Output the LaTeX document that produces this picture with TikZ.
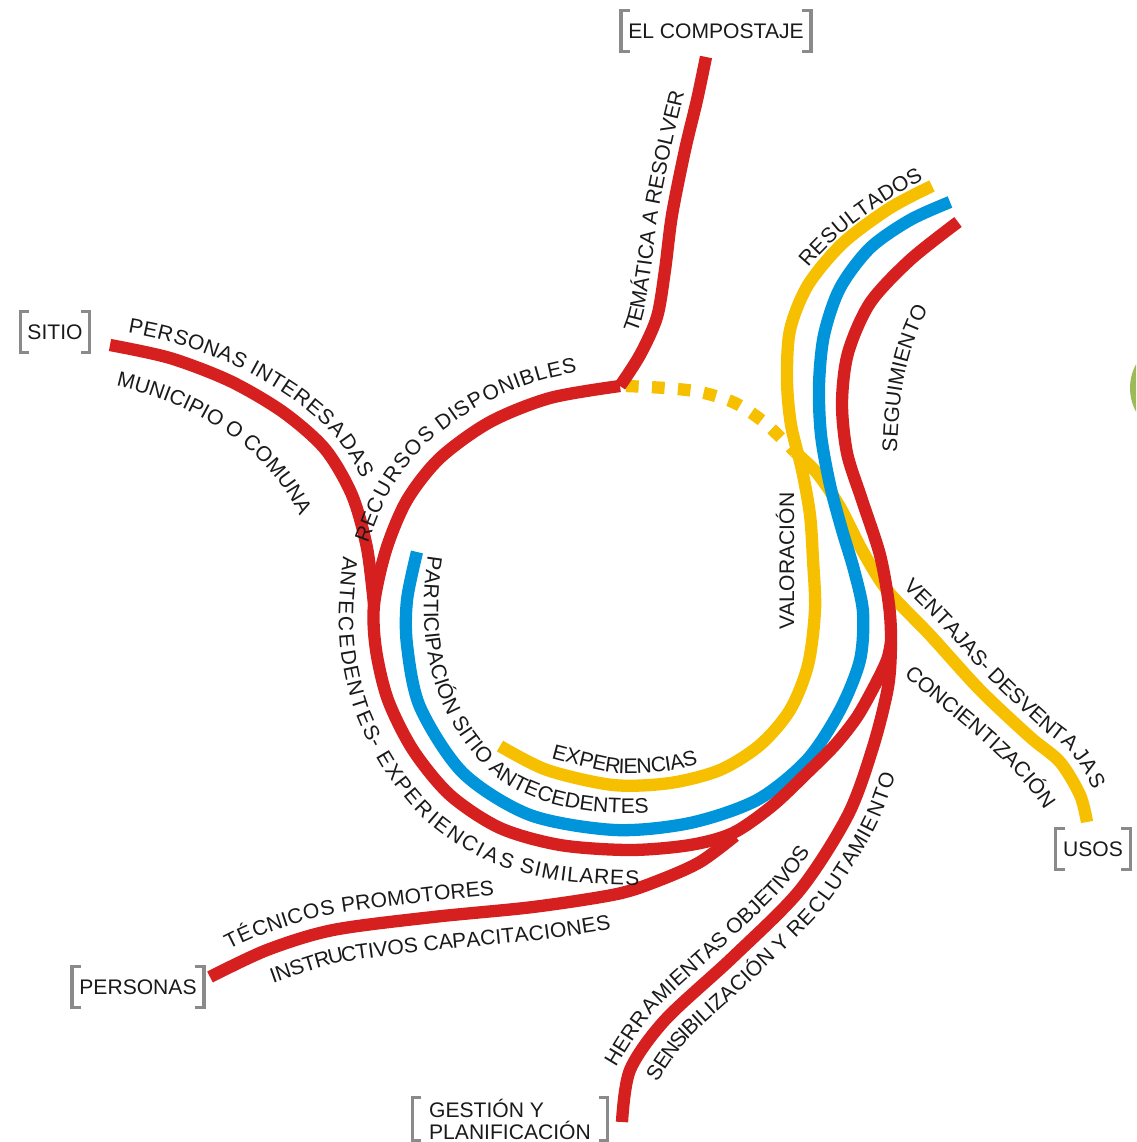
\documentclass[tikz,border=0pt]{standalone}
\usepackage{fontspec}
\setmainfont{Liberation Sans}
\usetikzlibrary{decorations.text}

\definecolor{rojo}{HTML}{D6201F}
\definecolor{azul}{HTML}{0095DA}
\definecolor{amarillo}{HTML}{F6BF00}
\definecolor{gris}{HTML}{8A8A8A}
\definecolor{tinta}{HTML}{1A1A1A}
\definecolor{verde}{HTML}{9BBB59}

\newcommand{\rotfont}{\fontsize{12}{14}\selectfont\color{tinta}}
% grey brackets round a label node
\newcommand{\corchetes}[1]{%
  \draw[corchete] ([xshift=5pt]#1.north west) -- (#1.north west) -- (#1.south west) -- ([xshift=5pt]#1.south west);
  \draw[corchete] ([xshift=-5pt]#1.north east) -- (#1.north east) -- (#1.south east) -- ([xshift=-5pt]#1.south east);}

\begin{document}
\begin{tikzpicture}[x=0.02cm, y=-0.02cm,
    linea/.style={line width=7pt},
    etiqueta/.style={font=\fontsize{12}{12.5}\selectfont, text=tinta, inner xsep=4pt, minimum height=23pt},
    corchete/.style={gris, line width=1.8pt},
    rotulo/.style 2 args={decorate, decoration={text along path, raise=#1, text={|\rotfont|#2}}}]
    \useasboundingbox (0,0) rectangle (1136,1142);

    \coordinate (arriba) at (620,386);
    \coordinate (union) at (891,642);

    % green disc cut by the right edge
    \begin{scope}
        \clip (0,0) rectangle (1136,1142);
        \fill[verde] (1180,388) circle (1cm);
    \end{scope}

    % yellow lines
    \draw[linea, amarillo, dash pattern=on 7.2pt off 7.6pt] plot[smooth] coordinates {(626,386) (665,388) (700,392) (735,403) (765,423) (795,452)};
    \draw[linea, amarillo] plot[smooth] coordinates {(795,452) (817,473) (840,507) (862,550) (887,590) (930,635) (980,690) (1030,737) (1060,762) (1080,795) (1087,822)};
    \draw[linea, amarillo] plot[smooth] coordinates {(500,746) (547,770) (613,785) (670,783) (720,770) (760,745) (790,710) (808,665) (815,610) (813,560) (810,515) (802,470) (791,425) (787,380) (790,330) (808,285) (843,243) (890,208) (932,186)};

    % blue line
    \draw[linea, azul] plot[smooth] coordinates {(417,552) (407,600) (407,645) (420,707) (463,773) (530,815) (615,830) (690,823) (757,800) (807,760) (840,710) (860,660) (863,612) (854,570) (842,530) (830,485) (821,435) (819,385) (824,335) (840,288) (870,248) (910,220) (950,202)};

    % red lines
    \draw[linea, rojo] plot[smooth] coordinates {(arriba) (550,398) (490,422) (440,458) (407,500) (386,550) (374,605) (376,650) (388,700) (413,750) (450,795) (500,828) (560,845) (630,850) (690,845) (733,833) (772,806) (807,773) (835,745) (857,717) (875,685) (887,660) (union)};
    \draw[linea, rojo] plot[smooth] coordinates {(110,345) (170,358) (230,381) (283,412) (325,449) (352,495) (367,548) (374,605)};
    \draw[linea, rojo] plot[smooth] coordinates {(arriba) (640,355) (657,317) (665,270) (672,215) (685,150) (697,100) (706,57)};
    \draw[linea, rojo] plot[smooth] coordinates {(210,977) (267,950) (333,930) (433,917) (533,907) (617,894) (660,880) (700,862) (735,836)};
    \draw[linea, rojo] plot[smooth] coordinates {(958,222) (910,260) (870,303) (848,353) (842,403) (847,453) (862,500) (880,555) (889,605) (union) (888,687) (873,747) (848,815) (800,890) (733,957) (665,1020) (630,1070) (622,1122)};

    % texts along the lines
    \path[rotulo={9pt}{PERSONAS INTERESADAS}] plot[smooth] coordinates {(125,348) (170,358) (230,381) (283,412) (325,449) (352,495) (367,548)};
    \path[rotulo={0pt}{MUNICIPIO O COMUNA}] (116,386) .. controls (200,405) and (285,455) .. (310,545);
    \path[rotulo={11pt}{RECURSOS DISPONIBLES}] plot[smooth] coordinates {(386,550) (407,500) (440,458) (490,422) (550,398) (620,386) (690,388)};
    \path[rotulo={8pt}{TEMÁTICA A RESOLVER}] plot[smooth] coordinates {(650,338) (657,317) (665,270) (672,215) (685,150) (697,100) (706,57) (712,20)};
    \path[rotulo={6pt}{RESULTADOS}] (816,275) .. controls (845,240) and (885,210) .. (960,172);
    \path[rotulo={0pt}{SEGUIMIENTO}] (897,452) .. controls (899,390) and (905,340) .. (945,282);
    \path[rotulo={8pt}{VENTAJAS- DESVENTAJAS}] plot[smooth] coordinates {(893,598) (930,635) (980,690) (1030,737) (1060,762) (1080,795) (1090,835) (1095,870)};
    \path[rotulo={0pt}{CONCIENTIZACIÓN}] (904,675) .. controls (960,725) and (1030,770) .. (1058,835);
    \path[rotulo={0pt}{PARTICIPACIÓN SITIO ANTECEDENTES}] (428,556) .. controls (415,640) and (430,720) .. (500,780) .. controls (560,820) and (650,820) .. (720,800);
    \path[rotulo={7pt}{EXPERIENCIAS}] plot[smooth] coordinates {(548,770) (613,785) (670,783) (720,770) (760,745) (790,710)};
    \path[rotulo={-20pt}{ANTECEDENTES- EXPERIENCIAS SIMILARES}] plot[smooth] coordinates {(378,560) (374,610) (376,650) (388,700) (413,750) (450,795) (500,828) (560,845) (630,850) (690,845) (733,833)};
    \path[rotulo={9pt}{TÉCNICOS PROMOTORES}] plot[smooth] coordinates {(236,964) (267,950) (333,930) (433,917) (533,907) (617,894) (660,880)};
    \path[rotulo={-19pt}{INSTRUCTIVOS CAPACITACIONES}] plot[smooth] coordinates {(262,952) (333,930) (433,917) (533,907) (617,894) (660,880) (700,862)};
    \path[rotulo={8pt}{HERRAMIENTAS OBJETIVOS}] plot[smooth] coordinates {(628,1075) (665,1020) (733,957) (800,890) (848,815) (873,747)};
    \path[rotulo={-17pt}{SENSIBILIZACIÓN Y RECLUTAMIENTO}] plot[smooth] coordinates {(632,1066) (665,1020) (733,957) (800,890) (848,815) (873,747) (888,687) (892,640) (889,600)};
    \node[font=\rotfont, rotate=90] (valoracion) at (785,561) {VALORACIÓN};

    % bracketed labels
    \node[etiqueta] (sitio) at (55,332) {SITIO};
    \node[etiqueta] (compostaje) at (716,31) {EL COMPOSTAJE};
    \node[etiqueta] (usos) at (1093,849) {USOS};
    \node[etiqueta] (personas) at (138,987) {PERSONAS};
    \node[etiqueta, align=left, minimum width=3.9cm, inner ysep=0.5pt] (gestion) at (510,1119) {GESTIÓN Y\\PLANIFICACIÓN};
    \corchetes{sitio}
    \corchetes{compostaje}
    \corchetes{usos}
    \corchetes{personas}
    \corchetes{gestion}
\end{tikzpicture}
\end{document}
